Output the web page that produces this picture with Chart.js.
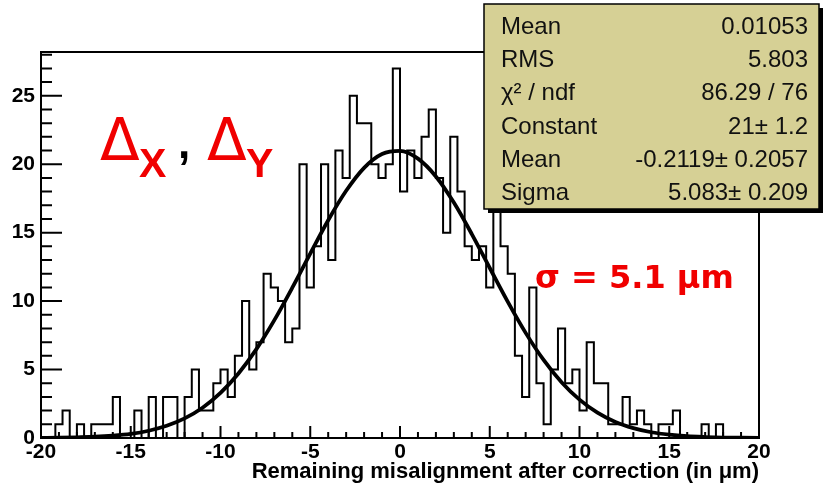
<!DOCTYPE html>
<html><head><meta charset="utf-8">
<script src="https://cdn.jsdelivr.net/npm/chart.js@4"></script>
<style>html,body{margin:0;padding:0;background:#fff}canvas{display:block}</style>
</head><body>
<canvas id="c" width="823" height="488"></canvas>
<script>
// ---- data ----
const binLow = -20;
const binWidth = 0.4;
const counts = [
  0,0,0,1,2,0,1,0,1,1,
  1,3,0,0,2,0,3,0,3,3,
  0,3,5,2,2,4,5,3,6,10,
  5,7,12,11,10,7,8,20,11,14,
  20,13,21,19,25,23,23,20,19,20,
  27,18,21,19,22,24,19,15,22,18,
  14,13,14,11,19,14,12,6,3,11,
  4,1,5,8,4,5,2,7,4,4,
  1,1,3,1,2,1,0,1,1,2,
  0,0,0,1,0,1,0,0,0,0
];
const fitX = [-20,-19,-18,-17,-16,-15,-14,-13,-12,-11,-10,-9,-8,-7,-6,-5,-4,-3,-2,-1,0,1,2,3,4,5,6,7,8,9,10,11,12,13,14,15,16,17,18,19,20];
const fitY = [0.01,0.02,0.05,0.09,0.17,0.30,0.53,0.89,1.43,2.21,3.29,4.71,6.49,8.61,10.98,13.47,15.91,18.06,19.74,20.75,20.98,20.41,19.11,17.20,14.90,12.42,9.96,7.68,5.70,4.07,2.80,1.85,1.17,0.72,0.42,0.24,0.13,0.07,0.03,0.02,0.01];
const xTickLabels = [-20,-15,-10,-5,0,5,10,15,20];
const yTickLabels = [0,5,10,15,20,25];
const statsLabels = ["Mean","RMS","\u03C7\u00B2 / ndf","Constant","Mean","Sigma"];
const statsValues = ["0.01053","5.803","86.29 / 76","21\u00B1 1.2","-0.2119\u00B1 0.2057","5.083\u00B1 0.209"];
const xTitle = "Remaining misalignment after correction (in \u03BCm)";
const sigmaNote = "\u03C3 = 5.1 \u03BCm";

// ---- build library structures ----
const histPoints = counts.map((c, i) => ({x: binLow + i * binWidth, y: c}));
histPoints.push({x: binLow + counts.length * binWidth, y: counts[counts.length - 1]});
const fitPoints = fitX.map((v, i) => ({x: v, y: fitY[i]}));

const tickFont = {family: "'Liberation Sans', Arial, sans-serif", size: 21, weight: 'bold'};

const rootPlugin = {
  id: 'rootPlugin',
  afterDatasetsDraw(chart) {
    const {ctx, chartArea: a, scales: {x, y}} = chart;
    ctx.save();
    ctx.strokeStyle = '#000';
    ctx.lineWidth = 2;
    ctx.strokeRect(a.left, a.top, a.right - a.left, a.bottom - a.top);
    ctx.beginPath();
    for (let v = -20; v <= 20; v++) {
      const px = x.getPixelForValue(v);
      const len = v % 5 === 0 ? 12 : 6;
      ctx.moveTo(px, a.bottom); ctx.lineTo(px, a.bottom - len);
    }
    for (let v = 0; v <= 28; v++) {
      const py = y.getPixelForValue(v);
      const len = v % 5 === 0 ? 21 : 11;
      ctx.moveTo(a.left, py); ctx.lineTo(a.left + len, py);
    }
    ctx.stroke();
    ctx.restore();
  },
  afterDraw(chart) {
    const ctx = chart.ctx;
    ctx.save();
    // stats box
    const bx = 484, by = 4, bw = 335, bh = 205;
    ctx.fillStyle = '#000';
    ctx.fillRect(bx + 4, by + 4, bw, bh);
    ctx.fillStyle = '#d6d095';
    ctx.fillRect(bx, by, bw, bh);
    ctx.strokeStyle = '#000'; ctx.lineWidth = 1.5;
    ctx.strokeRect(bx, by, bw, bh);
    ctx.fillStyle = '#111';
    ctx.font = "24px 'Liberation Sans', Arial, sans-serif";
    ctx.textBaseline = 'middle';
    statsLabels.forEach((t, i) => {
      const ty = 27 + i * 33.3;
      ctx.textAlign = 'left'; ctx.fillText(t, 501, ty);
      ctx.textAlign = 'right'; ctx.fillText(statsValues[i], 808, ty);
    });
    // Delta annotations
    ctx.textBaseline = 'alphabetic';
    ctx.textAlign = 'left';
    ctx.fillStyle = '#f00000';
    ctx.font = "58px 'DejaVu Sans', sans-serif";
    ctx.fillText('\u0394', 100, 160);
    ctx.fillText('\u0394', 207, 160);
    ctx.font = "bold 41px 'Liberation Sans', Arial, sans-serif";
    ctx.fillText('X', 139, 177);
    ctx.fillText('Y', 246, 177);
    ctx.fillStyle = '#000';
    ctx.font = "bold 44px 'Liberation Sans', Arial, sans-serif";
    ctx.fillText(',', 178, 158);
    // sigma note
    ctx.fillStyle = '#f00000';
    ctx.font = "bold 32px 'DejaVu Sans', sans-serif";
    ctx.fillText(sigmaNote, 535, 288);
    ctx.restore();
  }
};

new Chart(document.getElementById('c'), {
  type: 'line',
  data: {
    datasets: [
      {data: histPoints, stepped: 'after', borderColor: '#000', borderWidth: 2, pointRadius: 0, fill: false},
      {data: fitPoints, cubicInterpolationMode: 'monotone', borderColor: '#000', borderWidth: 3.8, pointRadius: 0, fill: false}
    ]
  },
  options: {
    responsive: false,
    animation: false,
    devicePixelRatio: 1,
    layout: {padding: {top: 52, right: 64, left: 0, bottom: 0}},
    plugins: {legend: {display: false}, tooltip: {enabled: false}},
    scales: {
      x: {
        type: 'linear', min: -20, max: 20,
        afterBuildTicks: s => { s.ticks = xTickLabels.map(v => ({value: v})); },
        afterFit: s => { s.height = 50; },
        grid: {display: false, drawTicks: false},
        border: {display: false},
        ticks: {font: tickFont, color: '#000', padding: 2, maxRotation: 0, autoSkip: false, callback: v => String(v)},
        title: {display: true, text: xTitle, align: 'end', color: '#000',
                font: {family: "'Liberation Sans', Arial, sans-serif", size: 22, weight: 'bold'},
                padding: {top: 0, bottom: 3}}
      },
      y: {
        type: 'linear', min: 0, max: 28.2,
        afterBuildTicks: s => { s.ticks = yTickLabels.map(v => ({value: v})); },
        afterFit: s => { s.width = 41; },
        grid: {display: false, drawTicks: false},
        border: {display: false},
        ticks: {font: tickFont, color: '#000', padding: 6, callback: v => String(v)}
      }
    }
  },
  plugins: [rootPlugin]
});
</script>
</body></html>
